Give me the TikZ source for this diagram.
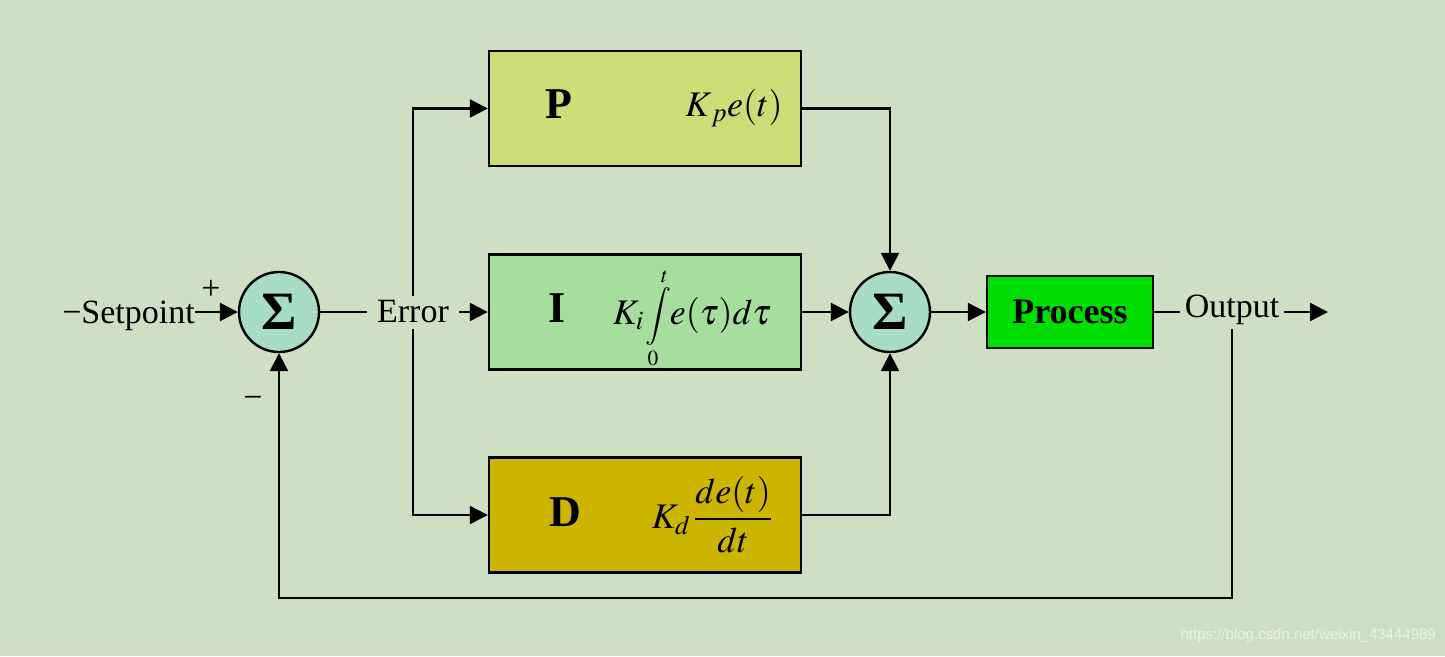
\documentclass[tikz,border=0pt]{standalone}
\usepackage{mathptmx}
\usepackage{fontspec}
\setmainfont{Liberation Serif}
\newfontfamily\wmfont{Liberation Sans}
\usetikzlibrary{arrows.meta}
\definecolor{bg}{RGB}{207,223,195}
\definecolor{sumfill}{RGB}{166,221,196}
\definecolor{pfill}{RGB}{204,221,119}
\definecolor{ifill}{RGB}{166,222,158}
\definecolor{dfill}{RGB}{204,180,0}
\definecolor{procfill}{RGB}{0,221,0}
\definecolor{wmcol}{RGB}{236,241,232}
\begin{document}
\begin{tikzpicture}[x=1pt,y=-1pt,
  blk/.style={draw=black, line width=2.4pt, minimum width=312pt, minimum height=115pt, inner sep=0pt},
  sumc/.style={circle, draw=black, line width=2.4pt, fill=sumfill, minimum size=80pt, inner sep=0pt, font=\fontsize{54}{54}\selectfont\bfseries},
  lbl/.style={font=\fontsize{34}{38}\selectfont, inner sep=0pt},
  wire/.style={line width=2.5pt},
  arr/.style={wire, -{Triangle[length=18pt,width=18pt]}},
  big/.style={font=\fontsize{44}{44}\selectfont\bfseries, inner sep=0pt},
  eq/.style={font=\fontsize{36}{40}\selectfont, inner sep=0pt},
]
\path[fill=bg] (0,0) rectangle (1445,656);

\node[sumc] (s1) at (279,312) {Σ};
\node[sumc] (s2) at (890,312) {Σ};
\node[blk, fill=pfill] (P) at (645,108.5) {};
\node[blk, fill=ifill] (I) at (645,312) {};
\node[blk, fill=dfill] (D) at (645,515) {};
\node[draw=black, line width=2.4pt, fill=procfill, minimum width=166pt, minimum height=72pt, inner sep=0pt, font=\fontsize{36}{36}\selectfont\bfseries] (proc) at (1070,312) {Process};

\node[big] (pl) at (559,104) {P};
\node[big] (il) at (557,308) {I};
\node[big] (dl) at (565,512) {D};
\node[eq] (pf) at (734,108) {$K_{\,p} e(t)$};
\node[eq] (if) at (692,318) {$K_i$\hspace{2pt}{\fontsize{29}{29}\selectfont$\displaystyle\int\limits_0^t$}\hspace{-2pt}$e(\tau)d\tau$};
\node[eq] (df) at (712,515) {$K_d\,\displaystyle\frac{de(t)}{dt}$};

\node[lbl, anchor=base east] (sp) at (195,323) {−Setpoint};
\node[lbl] (plus) at (211,290) {+};
\node[lbl] (minus) at (253,402) {−};
\node[lbl, fill=bg, inner xsep=10pt, inner ysep=5pt] (err) at (413,312) {Error};
\node[lbl, inner xsep=5pt, inner ysep=4pt] (out) at (1232,310) {Output};
\coordinate (outend) at (1328,312);
\coordinate (fb) at (279,598);

\draw[arr] (sp.east |- s1.west) -- (s1.west);
\draw[wire] (s1.east) -- (err.west |- s1.east);
\draw[arr] (err.east |- I.west) -- (I.west);
\draw[arr] (err.north) |- (P.west);
\draw[arr] (err.south) |- (D.west);
\draw[arr] (P.east) -| (s2.north);
\draw[arr] (I.east) -- (s2.west);
\draw[arr] (D.east) -| (s2.south);
\draw[arr] (s2.east) -- (proc.west);
\draw[wire] (proc.east) -- (out.west |- proc.east);
\draw[arr] (out.east |- outend) -- (outend);
\draw[arr] (out.south) |- (fb) -- (s1.south);

\node[anchor=east, font=\wmfont\fontsize{15}{15}\selectfont, text=wmcol, inner sep=0pt] (wm) at (1436,636) {https://blog.csdn.net/weixin\_43444989};
\end{tikzpicture}
\end{document}
